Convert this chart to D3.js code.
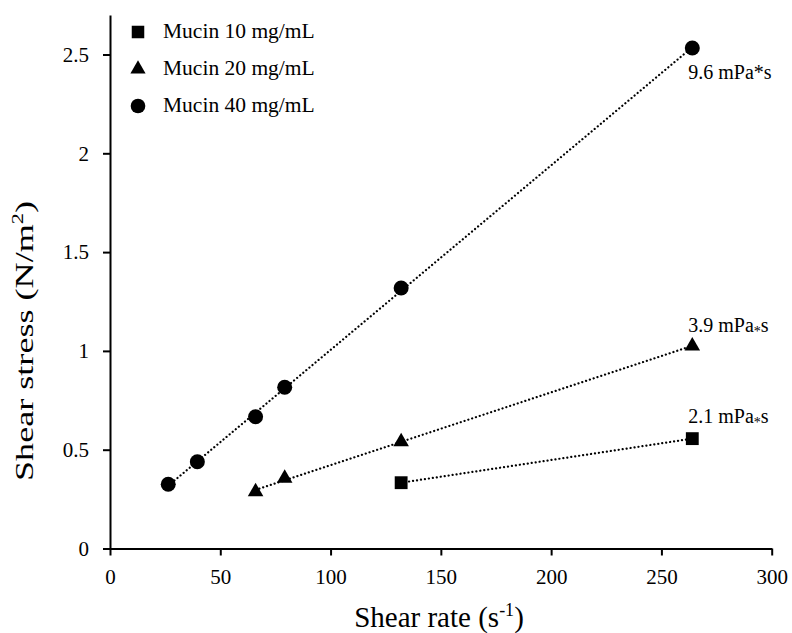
<!DOCTYPE html>
<html>
<head>
<meta charset="utf-8">
<script src="https://cdn.jsdelivr.net/npm/d3@7"></script>
<style>
  html, body { margin: 0; padding: 0; background: #fff; }
  svg text { font-family: "Liberation Serif", "Times New Roman", serif; fill: #000; }
</style>
</head>
<body>
<svg id="chart" width="792" height="633"></svg>
<script>
// data
const seriesNames = ['Mucin 10 mg/mL', 'Mucin 20 mg/mL', 'Mucin 40 mg/mL'];
const mucin10X = [132, 264];
const mucin10Y = [0.333, 0.556];
const mucin20X = [66, 79.2, 132, 264];
const mucin20Y = [0.287, 0.355, 0.540, 1.025];
const mucin40X = [26.4, 39.6, 66, 79.2, 132, 264];
const mucin40Y = [0.325, 0.439, 0.667, 0.816, 1.318, 2.533];
const viscValues = ['2.1', '3.9', '9.6'];
const xTicks = [0, 50, 100, 150, 200, 250, 300];
const yTicks = [0, 0.5, 1, 1.5, 2, 2.5];

const series = [
  { name: seriesNames[0], xs: mucin10X, ys: mucin10Y, symbol: d3.symbolSquare, size: 165, visc: viscValues[0], ldy: -16, smallStar: true },
  { name: seriesNames[1], xs: mucin20X, ys: mucin20Y, symbol: d3.symbolTriangle, size: 105, visc: viscValues[1], ldy: -14, smallStar: true },
  { name: seriesNames[2], xs: mucin40X, ys: mucin40Y, symbol: d3.symbolCircle, size: 177, visc: viscValues[2], ldy: 31, smallStar: false }
];

const svg = d3.select('#chart');

const x = d3.scaleLinear([0, 300], [110, 771.7]);
const y = d3.scaleLinear([0, 2.7], [548.5, 548.5 - 2.7 * 197.6]);

// least squares trend line for one series
function fit(xs, ys) {
  const mx = d3.mean(xs), my = d3.mean(ys);
  let sxy = 0, sxx = 0;
  xs.forEach((v, i) => { sxy += (v - mx) * (ys[i] - my); sxx += (v - mx) * (v - mx); });
  const b = sxy / sxx;
  const a = my - b * mx;
  const x0 = d3.min(xs), x1 = d3.max(xs);
  return [[x0, a + b * x0], [x1, a + b * x1]];
}

// x axis
const xAxis = svg.append('g')
  .attr('transform', `translate(0,${y(0)})`)
  .call(d3.axisBottom(x).tickValues(xTicks).tickSize(7).tickPadding(14).tickSizeOuter(0));
xAxis.select('.domain').attr('stroke', '#000').attr('stroke-width', 2);
xAxis.selectAll('.tick line').attr('stroke', '#000').attr('stroke-width', 2);
xAxis.selectAll('.tick text').attr('font-size', 21).attr('font-family', 'Liberation Serif');

// y axis
const yAxis = svg.append('g')
  .attr('transform', `translate(${x(0)},0)`)
  .call(d3.axisLeft(y).tickValues(yTicks).tickFormat(d3.format('')).tickSize(7).tickPadding(14).tickSizeOuter(0));
yAxis.select('.domain').attr('stroke', '#000').attr('stroke-width', 2);
yAxis.selectAll('.tick line').attr('stroke', '#000').attr('stroke-width', 2);
yAxis.selectAll('.tick text').attr('font-size', 21).attr('font-family', 'Liberation Serif');

// axis titles
const xt = svg.append('text')
  .attr('x', 439).attr('y', 627)
  .attr('text-anchor', 'middle')
  .attr('font-size', 29);
xt.append('tspan').text('Shear rate (s');
xt.append('tspan').attr('font-size', 18).attr('dy', -11).text('-1');
xt.append('tspan').attr('dy', 11).text(')');

const yt = svg.append('text')
  .attr('transform', 'translate(33,341) rotate(-90)')
  .attr('text-anchor', 'middle')
  .attr('font-size', 26)
  .attr('textLength', 280)
  .attr('lengthAdjust', 'spacingAndGlyphs');
yt.append('tspan').text('Shear stress (N/m');
yt.append('tspan').attr('font-size', 16).attr('dy', -10).text('2');
yt.append('tspan').attr('dy', 10).text(')');

// dotted trend lines
const line = d3.line().x(d => x(d[0])).y(d => y(d[1]));
series.forEach(s => {
  svg.append('path')
    .attr('d', line(fit(s.xs, s.ys)))
    .attr('fill', 'none')
    .attr('stroke', '#000')
    .attr('stroke-width', 2.2)
    .attr('stroke-linecap', 'round')
    .attr('stroke-dasharray', '0.1 3.9');
});

// markers
series.forEach(s => {
  svg.append('g').selectAll('path')
    .data(s.xs.map((v, i) => [v, s.ys[i]]))
    .join('path')
    .attr('transform', d => `translate(${x(d[0])},${y(d[1])})`)
    .attr('d', d3.symbol(s.symbol, s.size))
    .attr('fill', '#000');
});

// viscosity labels next to the last point
series.forEach(s => {
  const i = s.xs.length - 1;
  const t = svg.append('text')
    .attr('x', x(s.xs[i]) - 4)
    .attr('y', y(s.ys[i]) + s.ldy)
    .attr('font-size', 20);
  t.append('tspan').text(s.visc + ' mPa');
  if (s.smallStar) {
    t.append('tspan').attr('font-size', 14).attr('dy', 4).text('*');
    t.append('tspan').attr('dy', -4).text('s');
  } else {
    t.append('tspan').text('*s');
  }
});

// legend
const legend = svg.append('g').attr('transform', 'translate(138,32)');
series.forEach((s, i) => {
  const g = legend.append('g').attr('transform', `translate(0,${i * 37})`);
  g.append('path')
    .attr('d', d3.symbol(s.symbol, s.size * 0.95))
    .attr('fill', '#000');
  g.append('text')
    .attr('x', 25).attr('y', 6)
    .attr('font-size', 21.5)
    .text(s.name);
});
</script>
</body>
</html>
